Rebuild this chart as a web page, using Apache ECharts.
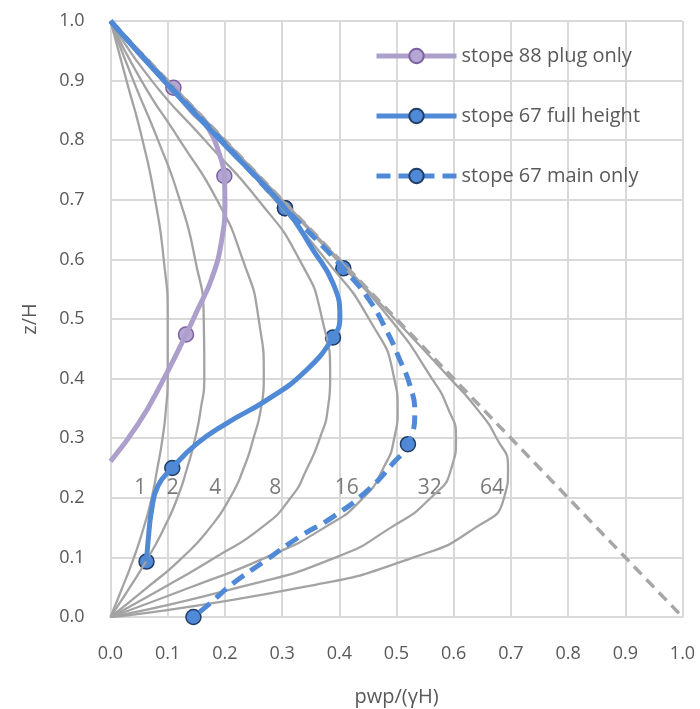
<!DOCTYPE html>
<html>
<head>
<meta charset="utf-8">
<script src="https://cdn.jsdelivr.net/npm/echarts@6/dist/echarts.min.js"></script>
<style>
html, body { margin: 0; padding: 0; background: #fff; }
#chart { width: 700px; height: 709px; }
</style>
</head>
<body>
<div id="chart"></div>
<script>
// depth levels (z/H) used for the theoretical curves
var zLevels = [1, 0.9, 0.8, 0.7, 0.6, 0.5, 0.4, 0.35, 0.3, 0.25, 0.2, 0.15, 0.1, 0.05, 0];
// pwp/(γH) of each theoretical curve at those depths
var curve1  = [0, 0.028, 0.056, 0.078, 0.093, 0.100, 0.100, 0.097, 0.091, 0.082, 0.072, 0.058, 0.041, 0.021, 0];
var curve2  = [0, 0.040, 0.083, 0.121, 0.148, 0.163, 0.164, 0.158, 0.148, 0.134, 0.117, 0.094, 0.066, 0.034, 0];
var curve4  = [0, 0.054, 0.121, 0.186, 0.231, 0.259, 0.268, 0.263, 0.250, 0.233, 0.209, 0.174, 0.126, 0.065, 0];
var curve8  = [0, 0.072, 0.165, 0.258, 0.330, 0.370, 0.384, 0.380, 0.366, 0.344, 0.315, 0.264, 0.183, 0.094, 0];
var curve16 = [0, 0.097, 0.193, 0.287, 0.376, 0.452, 0.496, 0.502, 0.496, 0.477, 0.442, 0.374, 0.272, 0.140, 0];
var curve32 = [0, 0.099, 0.198, 0.297, 0.395, 0.489, 0.562, 0.590, 0.604, 0.596, 0.560, 0.490, 0.394, 0.226, 0];
var curve64 = [0, 0.100, 0.200, 0.300, 0.399, 0.497, 0.594, 0.640, 0.675, 0.695, 0.688, 0.638, 0.530, 0.336, 0];
var curveNames = ['1', '2', '4', '8', '16', '32', '64'];
var curveLabelX = [0.052, 0.109, 0.183, 0.288, 0.413, 0.558, 0.667];
var curveLabelZ = 0.216;

// hydrostatic line
var hydrostatic = [[0, 1], [1, 0]];

// measured points [pwp/(γH), z/H]
var plug88Pts = [[0.110, 0.888], [0.199, 0.740], [0.132, 0.474]];
var full67Pts = [[0.305, 0.686], [0.389, 0.469], [0.108, 0.250], [0.063, 0.093]];
var main67Pts = [[0.305, 0.686], [0.407, 0.585], [0.520, 0.290], [0.145, 0.000]];

// traced paths of the fitted lines
var plug88Line = [[0.110, 0.888], [0.142, 0.848], [0.171, 0.820], [0.191, 0.775], [0.199, 0.740],
    [0.200, 0.697], [0.194, 0.630], [0.177, 0.568], [0.152, 0.515], [0.132, 0.474],
    [0.089, 0.392], [0.049, 0.325], [0, 0.261]];
var full67Line = [[0, 1], [0.100, 0.893], [0.200, 0.792], [0.305, 0.686], [0.354, 0.616],
    [0.389, 0.560], [0.401, 0.504], [0.389, 0.469], [0.340, 0.412], [0.273, 0.364],
    [0.203, 0.325], [0.150, 0.290], [0.108, 0.250], [0.083, 0.220], [0.072, 0.180],
    [0.066, 0.130], [0.063, 0.093]];
var main67Line = [[0, 1], [0.100, 0.895], [0.200, 0.794], [0.305, 0.686], [0.360, 0.633],
    [0.407, 0.585], [0.450, 0.535], [0.483, 0.480], [0.506, 0.431], [0.523, 0.390],
    [0.532, 0.345], [0.520, 0.290], [0.494, 0.258], [0.450, 0.213], [0.389, 0.168],
    [0.331, 0.135], [0.273, 0.096], [0.215, 0.057], [0.174, 0.023], [0.145, 0.000]];

var FONT = 'Open Sans';
var TXT = '#595959';
var GRID = '#d9d9d9';

var myChart = echarts.init(document.getElementById('chart'));

var curves = [curve1, curve2, curve4, curve8, curve16, curve32, curve64];
var series = [];
curves.forEach(function (c, i) {
    series.push({
        name: 'theory ' + curveNames[i],
        type: 'line',
        smooth: 0.6,
        symbol: 'none',
        silent: true,
        lineStyle: { width: 2.3, color: '#a3a3a3' },
        data: c.map(function (x, k) { return [x, zLevels[k]]; })
    });
});
series.push({
    name: 'hydrostatic',
    type: 'line',
    symbol: 'none',
    silent: true,
    lineStyle: { width: 3.5, color: '#a6a6a6', type: [11, 7] },
    data: hydrostatic
});
series.push({
    name: 'curve labels',
    type: 'scatter',
    symbolSize: 0,
    silent: true,
    label: {
        show: true,
        position: 'inside',
        formatter: function (p) { return p.data[2]; },
        fontFamily: FONT,
        fontSize: 21,
        color: TXT
    },
    data: curveNames.map(function (n, i) { return [curveLabelX[i], curveLabelZ, n]; })
});

function measured(name, line, pts, lineColor, fill, border, dash) {
    series.push({
        name: name,
        type: 'line',
        smooth: 0.5,
        symbol: 'circle',
        showSymbol: false,
        lineStyle: { width: 5, color: lineColor, type: dash || 'solid' },
        itemStyle: { color: fill, borderColor: border, borderWidth: 1.5 },
        data: line
    });
    series.push({
        name: name + ' pts',
        type: 'scatter',
        symbol: 'circle',
        symbolSize: 15,
        itemStyle: { color: fill, borderColor: border, borderWidth: 1.5, opacity: 1 },
        data: pts
    });
}
measured('stope 88 plug only', plug88Line, plug88Pts, '#ad9fcb', '#b4a7d6', '#7d60a0');
measured('stope 67 main only', main67Line, main67Pts, '#5089d6', '#5089d6', '#1f3d66', [14, 8]);
measured('stope 67 full height', full67Line, full67Pts, '#5089d6', '#5089d6', '#1f3d66');

var option = {
    animation: false,
    grid: { left: 110.5, right: 17.5, top: 21, bottom: 92, outerBoundsMode: 'none' },
    legend: {
        orient: 'vertical',
        left: 369,
        top: 41,
        itemWidth: 80,
        itemHeight: 18,
        itemGap: 40,
        lineStyle: { width: 'inherit' },
        textStyle: { fontFamily: FONT, fontSize: 20, color: TXT },
        data: ['stope 88 plug only', 'stope 67 full height', 'stope 67 main only']
    },
    xAxis: {
        type: 'value',
        min: 0, max: 1, interval: 0.1,
        name: 'pwp/(γH)',
        nameLocation: 'middle',
        nameGap: 70,
        nameTextStyle: { fontFamily: FONT, fontSize: 20, color: TXT },
        axisLine: { show: true, lineStyle: { color: GRID, width: 2 } },
        axisTick: { show: false },
        axisLabel: {
            margin: 28, fontFamily: FONT, fontSize: 18, color: TXT,
            formatter: function (v) { return v.toFixed(1); }
        },
        splitLine: { show: true, lineStyle: { color: GRID, width: 2 } }
    },
    yAxis: {
        type: 'value',
        min: 0, max: 1, interval: 0.1,
        name: 'z/H',
        nameLocation: 'middle',
        nameGap: 70,
        nameTextStyle: { fontFamily: FONT, fontSize: 20, color: TXT },
        axisLine: { show: true, lineStyle: { color: GRID, width: 2 } },
        axisTick: { show: false },
        axisLabel: {
            margin: 26, fontFamily: FONT, fontSize: 18, color: TXT,
            formatter: function (v) { return v.toFixed(1); }
        },
        splitLine: { show: true, lineStyle: { color: GRID, width: 2 } }
    },
    series: series
};
myChart.setOption(option);
</script>
</body>
</html>
